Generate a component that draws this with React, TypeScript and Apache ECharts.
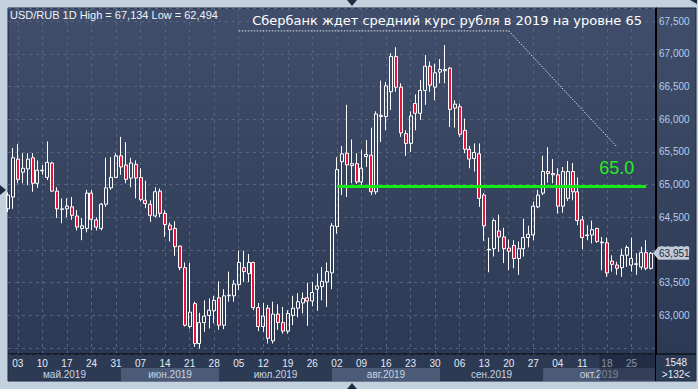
import { useEffect, useRef } from 'react';
import * as echarts from 'echarts';

// OHLC values (RUB per USD), one per weekday, 01 May – 31 Oct 2019
const opens = [
  64.63, 64.81, 65.39, 65.19, 65.24, 65.41, 65.02, 65.21, 65.11, 65.33,
  64.90, 64.62, 64.63, 64.66, 64.52, 64.33, 64.33, 64.87, 64.46, 64.33,
  64.70, 64.95, 65.11, 65.44, 65.30, 65.10, 65.31, 65.11, 64.76, 64.70,
  64.52, 64.90, 64.56, 64.38, 64.33, 64.06, 63.73, 62.83, 63.18, 62.57,
  62.89, 63.00, 63.07, 63.27, 62.85, 63.30, 63.30, 63.47, 63.73, 63.64,
  63.81, 63.12, 62.83, 63.11, 62.61, 63.02, 62.89, 62.76, 63.00, 63.11,
  63.19, 63.27, 63.22, 63.40, 63.44, 63.51, 63.65, 64.36, 65.35, 65.48,
  65.29, 65.32, 65.04, 65.43, 65.45, 64.89, 66.06, 66.04, 66.42, 66.96,
  66.49, 65.78, 65.63, 66.24, 66.09, 66.44, 66.81, 66.49, 66.72, 66.74,
  66.78, 66.17, 66.19, 65.83, 65.54, 65.40, 65.47, 64.84, 64.00, 64.02,
  64.29, 64.20, 64.03, 64.07, 63.87, 64.02, 64.19, 64.23, 64.66, 64.87,
  65.20, 65.17, 65.15, 64.67, 64.79, 65.20, 64.89, 64.46, 64.22, 64.23,
  64.33, 64.12, 64.11, 63.83, 63.77, 63.73, 63.92, 63.77, 63.78, 63.74,
  63.96, 63.72,
];
const closes = [
  64.84, 65.41, 65.08, 65.25, 65.39, 65.02, 65.22, 65.22, 65.34, 64.90,
  64.63, 64.63, 64.67, 64.53, 64.35, 64.37, 64.87, 64.47, 64.35, 64.70,
  64.95, 65.11, 65.44, 65.27, 65.08, 65.33, 65.10, 64.77, 64.71, 64.53,
  64.89, 64.56, 64.39, 64.31, 64.05, 63.73, 62.85, 63.05, 62.57, 62.89,
  62.99, 63.08, 63.23, 62.85, 63.30, 63.31, 63.48, 63.81, 63.67, 63.81,
  63.12, 62.83, 62.99, 62.65, 63.02, 62.89, 62.76, 63.03, 63.11, 63.21,
  63.26, 63.22, 63.35, 63.45, 63.52, 63.67, 64.37, 65.23, 65.47, 65.30,
  65.32, 65.04, 65.25, 65.46, 64.89, 66.08, 66.04, 66.51, 66.96, 66.49,
  65.79, 65.63, 66.05, 66.09, 66.44, 66.81, 66.52, 66.71, 66.76, 66.76,
  66.15, 66.23, 65.77, 65.54, 65.39, 65.49, 64.79, 64.37, 64.01, 64.45,
  64.20, 64.02, 63.98, 63.87, 64.02, 64.19, 64.24, 64.67, 64.84, 65.20,
  65.17, 65.15, 64.67, 65.20, 65.20, 64.89, 64.45, 64.19, 64.23, 64.31,
  64.13, 64.11, 63.65, 63.78, 63.72, 63.92, 64.04, 63.87, 63.79, 63.96,
  63.72, 63.951,
];
const lows = [
  64.58, 64.63, 65.02, 65.02, 64.99, 64.89, 64.95, 65.15, 65.07, 64.89,
  64.49, 64.41, 64.50, 64.46, 64.30, 64.15, 64.27, 64.30, 64.30, 64.30,
  64.66, 64.92, 65.10, 65.15, 65.02, 64.96, 64.79, 64.74, 64.64, 64.43,
  64.50, 64.50, 64.20, 64.13, 63.91, 63.69, 62.83, 62.80, 62.52, 62.494,
  62.75, 62.80, 62.88, 62.78, 62.79, 63.21, 63.21, 63.39, 63.51, 63.51,
  63.08, 62.76, 62.75, 62.57, 62.57, 62.78, 62.72, 62.72, 62.85, 62.97,
  63.03, 62.84, 63.14, 63.07, 63.23, 63.13, 63.40, 64.25, 64.84, 64.81,
  65.02, 65.01, 64.97, 65.27, 64.84, 64.85, 65.65, 65.83, 66.14, 66.42,
  65.73, 65.44, 65.50, 65.83, 65.99, 66.22, 66.42, 66.29, 66.55, 66.55,
  65.88, 65.87, 65.73, 65.48, 65.25, 65.20, 64.66, 64.14, 63.66, 63.90,
  63.97, 63.80, 63.69, 63.72, 63.62, 63.90, 64.04, 64.15, 64.64, 64.84,
  65.03, 65.02, 64.56, 64.57, 64.75, 64.76, 64.38, 64.01, 64.15, 64.10,
  64.11, 63.69, 63.59, 63.67, 63.62, 63.59, 63.74, 63.67, 63.62, 63.70,
  63.69, 63.70,
];
const highs = [
  64.88, 65.56, 65.62, 65.48, 65.48, 65.48, 65.37, 65.30, 65.66, 65.35,
  64.96, 64.79, 64.79, 64.81, 64.61, 64.49, 64.92, 64.92, 64.50, 64.72,
  65.41, 65.42, 65.48, 65.73, 65.65, 65.41, 65.37, 65.25, 65.06, 64.76,
  64.96, 64.94, 64.61, 64.42, 64.44, 64.07, 63.81, 63.80, 63.21, 63.04,
  63.23, 63.26, 63.30, 63.52, 63.40, 63.67, 63.54, 63.99, 63.99, 63.94,
  63.82, 63.19, 63.19, 63.16, 63.21, 63.17, 63.13, 63.08, 63.30, 63.34,
  63.35, 63.50, 63.51, 63.64, 63.74, 63.81, 64.41, 65.42, 65.59, 66.22,
  65.69, 65.48, 65.53, 65.68, 65.87, 66.12, 66.59, 66.57, 67.01, 67.10,
  66.55, 65.83, 66.12, 66.38, 66.60, 66.98, 66.88, 66.85, 66.92, 67.134,
  66.80, 66.29, 66.24, 66.01, 65.59, 65.63, 65.63, 64.87, 64.19, 64.48,
  64.54, 64.34, 64.16, 64.15, 64.13, 64.48, 64.37, 64.74, 64.92, 65.44,
  65.57, 65.39, 65.25, 65.27, 65.36, 65.33, 65.11, 64.52, 64.38, 64.45,
  64.34, 64.20, 64.19, 63.92, 63.82, 64.02, 64.07, 64.19, 63.95, 64.05,
  64.15, 63.97,
];

const monthLabels = ['май.2019', 'июн.2019', 'июл.2019', 'авг.2019', 'сен.2019', 'окт.2019'];
const headerText = 'USD/RUB 1D High = 67,134 Low = 62,494';
const titleText = 'Сбербанк ждет средний курс рубля в 2019 на уровне 65';
const targetLevel = 64.97;
const targetLabel = '65.0';
const cornerTop = '1548';
const cornerBottom = '>132<';

function buildDates(): string[] {
  const out: string[] = [];
  const d = new Date(Date.UTC(2019, 4, 1));
  const end = Date.UTC(2019, 9, 31);
  while (d.getTime() <= end) {
    const wd = d.getUTCDay();
    if (wd !== 0 && wd !== 6) out.push(d.toISOString().slice(0, 10));
    d.setUTCDate(d.getUTCDate() + 1);
  }
  return out;
}
const dates = buildDates();

function isFriday(v: string | undefined): boolean {
  if (!v) return false;
  const [y, m, d] = v.split('-').map(Number);
  return new Date(Date.UTC(y, m - 1, d)).getUTCDay() === 5;
}

const FONT = 'Liberation Sans, Arial, sans-serif';

export default function App() {
  const ref = useRef<HTMLDivElement>(null);
  useEffect(() => {
    document.body.style.margin = '0';
    if (!ref.current) return;
    const chart = echarts.init(ref.current, undefined, { renderer: 'svg' });
    const data = dates.map((_, i) => [opens[i], closes[i], lows[i], highs[i]]);
    const gridLine = { color: '#56657f', type: [3, 4] as number[], width: 1 };
    chart.setOption({
      animation: false,
      backgroundColor: 'transparent',
      grid: { left: 8, right: 42, top: 8, bottom: 35 },
      xAxis: {
        type: 'category',
        data: dates,
        boundaryGap: false,
        max: dates.length,
        axisLine: { show: false },
        axisTick: { show: false },
        axisLabel: {
          interval: (_i: number, v: string) => isFriday(v),
          formatter: (v: string) => (v ? v.slice(8, 10) : ''),
          color: '#e4eaf2',
          fontSize: 10,
          fontFamily: FONT,
          margin: 4,
        },
        splitLine: { show: true, interval: (_i: number, v: string) => isFriday(v), lineStyle: gridLine },
      },
      yAxis: {
        type: 'value',
        position: 'right',
        min: 62.41,
        max: 67.7,
        splitNumber: 10,
        axisLine: { show: true, lineStyle: { color: '#000000', width: 1 } },
        axisTick: { show: false },
        axisLabel: {
          showMinLabel: false,
          showMaxLabel: false,
          formatter: (v: number) => (v < 62.9 ? '' : v.toFixed(3).replace('.', ',')),
          color: '#b4cdea',
          fontSize: 10,
          fontFamily: FONT,
          margin: 3,
        },
        splitLine: { show: true, lineStyle: gridLine },
      },
      series: [
        {
          type: 'candlestick',
          data,
          barWidth: 3.5,
          itemStyle: {
            color: 'rgba(0,0,0,0)',
            color0: '#e3173d',
            borderColor: '#ffffff',
            borderColor0: '#ffffff',
            borderWidth: 1,
          },
          markLine: {
            silent: true,
            symbol: ['none', 'none'],
            lineStyle: { color: '#14ea14', width: 3, type: 'solid' },
            label: {
              show: true,
              position: 'insideEndTop',
              formatter: targetLabel,
              color: '#22ee22',
              fontSize: 18,
              fontFamily: FONT,
              distance: [12, 10],
            },
            data: [[{ coord: [dates[67], targetLevel] }, { coord: [dates[130], targetLevel] }]],
          },
        },
      ],
    });

    const px = (i: number) => chart.convertToPixel({ xAxisIndex: 0 }, dates[i]) as number;
    const py = (v: number) => chart.convertToPixel({ yAxisIndex: 0 }, v) as number;
    const step = px(1) - px(0);
    const rightX = 655;
    const frameR = 696;
    const axisY = 354;
    const bottomY = 381;

    // month bands from first trading day of each month
    const firsts: number[] = [];
    dates.forEach((d, i) => {
      if (i === 0 || d.slice(5, 7) !== dates[i - 1].slice(5, 7)) firsts.push(i);
    });
    const bands: any[] = [];
    const monthTexts: any[] = [];
    firsts.forEach((fi, k) => {
      const x0 = k === 0 ? 8 : px(fi);
      const x1 = k + 1 < firsts.length ? px(firsts[k + 1]) : rightX;
      if (k % 2 === 1) {
        bands.push({ type: 'rect', z: -5, shape: { x: x0, y: 368, width: x1 - x0, height: bottomY - 368 }, style: { fill: '#4b5a77' } });
      }
      monthTexts.push({
        type: 'text', z: 100, x: (x0 + x1) / 2, y: 374,
        style: { text: monthLabels[k], fill: '#c9d4e3', font: `10px ${FONT}`, align: 'center', verticalAlign: 'middle' },
      });
    });

    const lastY = py(closes[closes.length - 1]);
    const tri = '#1f2b45';
    const dash = { stroke: '#dfe5ee', lineWidth: 1, lineDash: [1.5, 1.5], fill: null };

    chart.setOption({
      graphic: [
        {
          type: 'rect', z: -10,
          shape: { x: 8, y: 8, width: frameR - 8, height: bottomY - 8 },
          style: {
            fill: new echarts.graphic.LinearGradient(0, 0, 0, 1, [
              { offset: 0, color: '#404e6b' },
              { offset: 1, color: '#2b3853' },
            ]),
            stroke: '#1a2440', lineWidth: 1,
          },
        },
        { type: 'rect', z: -6, shape: { x: 8.5, y: axisY, width: frameR - 9, height: bottomY - axisY - 0.5 }, style: { fill: '#2d3a54' } },
        ...bands,
        ...monthTexts,
        {
          type: 'rect', z: 200,
          shape: { x: px(120) + step / 2, y: axisY + 0.5, width: rightX - (px(120) + step / 2), height: bottomY - axisY - 1 },
          style: { fill: 'rgba(22,30,50,0.45)' },
        },
        { type: 'line', z: 150, shape: { x1: 8, y1: axisY, x2: frameR, y2: axisY }, style: { stroke: '#000000', lineWidth: 1 } },
        { type: 'line', z: 150, shape: { x1: rightX + 0.5, y1: 8, x2: rightX + 0.5, y2: bottomY }, style: { stroke: '#000000', lineWidth: 1 } },
        { type: 'text', z: 100, x: 676, y: 362, style: { text: cornerTop, fill: '#e6ecf4', font: `10px ${FONT}`, align: 'center', verticalAlign: 'middle' } },
        { type: 'text', z: 100, x: 676, y: 374, style: { text: cornerBottom, fill: '#e6ecf4', font: `10px ${FONT}`, align: 'center', verticalAlign: 'middle' } },
        { type: 'text', z: 100, x: 10, y: 15, style: { text: headerText, fill: '#eef2f7', font: `11px ${FONT}`, verticalAlign: 'middle' } },
        { type: 'text', z: 100, x: 642, y: 20, style: { text: titleText, fill: '#ffffff', font: '13px DejaVu Sans, sans-serif', align: 'right', verticalAlign: 'middle' } },
        {
          type: 'polyline', z: 90,
          shape: { points: [[px(47), py(67.35)], [px(102), py(67.35)], [px(124), py(65.58)]] },
          style: dash,
        },
        // last price tag
        { type: 'polygon', z: 160, shape: { points: [[rightX - 2, lastY], [rightX + 3, lastY - 6], [rightX + 3, lastY + 6]] }, style: { fill: '#c2cad6' } },
        { type: 'rect', z: 160, shape: { x: rightX + 3, y: lastY - 6.5, width: 31, height: 13 }, style: { fill: '#c2cad6' } },
        { type: 'text', z: 161, x: rightX + 4, y: lastY, style: { text: closes[closes.length - 1].toFixed(3).replace('.', ','), fill: '#1b2848', font: `10px ${FONT}`, verticalAlign: 'middle' } },
        // navigation markers
        { type: 'polygon', z: 100, shape: { points: [[347, 0], [357, 0], [352, 6]] }, style: { fill: tri } },
        { type: 'polygon', z: 100, shape: { points: [[347, 389], [357, 389], [352, 383]] }, style: { fill: tri } },
        { type: 'polygon', z: 100, shape: { points: [[0, 185], [0, 195], [6, 190]] }, style: { fill: tri } },
        { type: 'polygon', z: 100, shape: { points: [[690, 0], [697, 0], [697, 4]] }, style: { fill: tri } },
      ],
    });

    return () => chart.dispose();
  }, []);
  return <div ref={ref} style={{ width: 698, height: 389, background: '#c3d0de' }} />;
}
